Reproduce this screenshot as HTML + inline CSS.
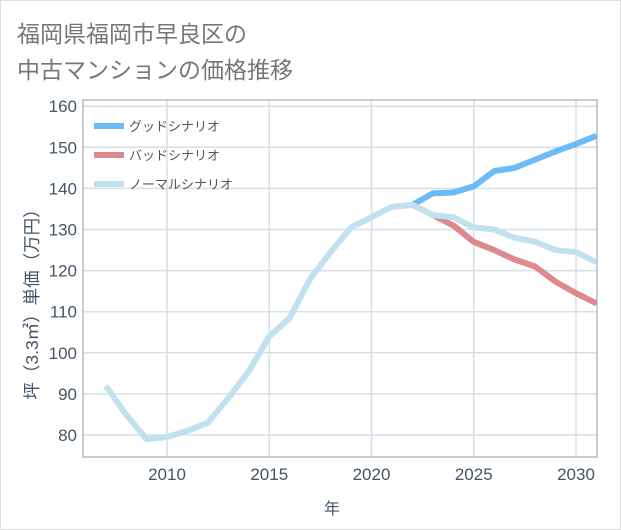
<!DOCTYPE html>
<html><head><meta charset="utf-8"><style>
body{margin:0;background:#fff}
svg{display:block;font-family:"Liberation Sans","Noto Sans CJK JP",sans-serif}
</style></head><body>
<svg id="c" width="621" height="530" viewBox="0 0 621 530" xmlns="http://www.w3.org/2000/svg">
<rect x="0.5" y="0.5" width="620" height="529" fill="#fff" stroke="#ddd"/>
<text x="17" y="42" font-size="23" fill="#777">福岡県福岡市早良区の</text>
<text x="17" y="78" font-size="23" fill="#777">中古マンションの価格推移</text>
<g id="grid"></g>
<g id="lines"></g>
<rect x="83" y="100" width="514" height="357" fill="none" stroke="#999"/>
<text transform="translate(38,300) rotate(-90)" text-anchor="middle" font-size="17.5" fill="#456">坪（3.3㎡）単価（万円）</text>
<text x="332" y="514" text-anchor="middle" font-size="16" fill="#456">年</text>
<g id="legend"></g>
</svg>
<script>
const years=[2007,2008,2009,2010,2011,2012,2013,2014,2015,2016,2017,2018,2019,2020,2021,2022,2023,2024,2025,2026,2027,2028,2029,2030,2031];
const normal=[92,85,79,79.5,81,83,89,95.5,104,108.5,118,124.5,130.5,133,135.5,136,133.5,133,130.5,130,128,127,125,124.5,122];
const goodYears=[2022,2023,2024,2025,2026,2027,2028,2029,2030,2031];
const good=[136,138.8,139,140.5,144.2,145,147,149,150.8,152.8];
const bad=[136,133.5,131,127,125,122.7,121,117.3,114.5,112];
const yTicks=[80,90,100,110,120,130,140,150,160];
const xTicks=[2010,2015,2020,2025,2030];
const X=v=>167+(v-2010)*20.45, Y=v=>435-(v-80)*4.11;
const NS="http://www.w3.org/2000/svg";
function mk(p,t,a){const e=document.createElementNS(NS,t);for(const k in a)e.setAttribute(k,a[k]);p.appendChild(e);return e;}
const g=document.getElementById('grid');
yTicks.forEach(v=>{const l=mk(g,'line',{x1:83,x2:597,y1:Y(v),y2:Y(v),stroke:'#d5e0ea','stroke-width':1.5});

const t=mk(g,'text',{x:77,y:Y(v)+6,'text-anchor':'end','font-size':17,fill:'#456'});t.textContent=v;
});
xTicks.forEach(v=>{const l=mk(g,'line',{x1:X(v),x2:X(v),y1:100,y2:457,stroke:'#d5e0ea','stroke-width':1.5});

const t=mk(g,'text',{x:X(v),y:480,'text-anchor':'middle','font-size':17,fill:'#456'});t.textContent=v;
});
const L=document.getElementById('lines');
function line(xs,ys,c,n){const p=mk(L,'polyline',{points:xs.map((x,i)=>X(x)+','+Y(ys[i])).join(' '),fill:'none',stroke:c,'stroke-width':6,'stroke-linejoin':'round'});
}
line(goodYears,good,'#6bbcf5','good-scenario-line');
line(goodYears,bad,'#dc8a8e','bad-scenario-line');
line(years,normal,'#c2e1ee','normal-scenario-line');
const lg=document.getElementById('legend');
[['グッドシナリオ','#6bbcf5'],['バッドシナリオ','#dc8a8e'],['ノーマルシナリオ','#c2e1ee']].forEach((d,i)=>{
const y=126+i*29;const r=mk(lg,'line',{x1:94,x2:124,y1:y,y2:y,stroke:d[1],'stroke-width':6});

const t=mk(lg,'text',{x:129,y:y+5,'font-size':13,fill:'#555'});t.textContent=d[0];
});
</script>
</body></html>
